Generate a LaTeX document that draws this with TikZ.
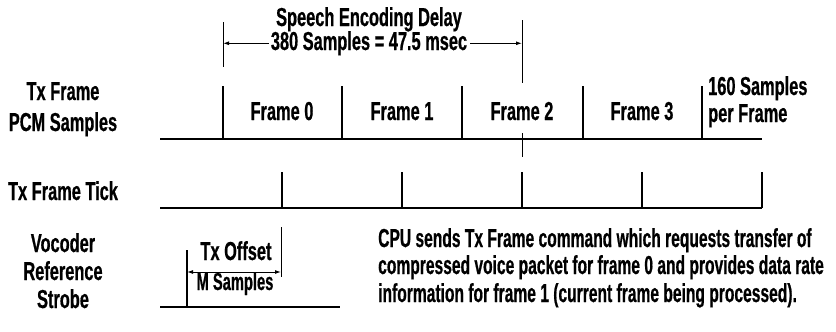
\documentclass[tikz,border=0pt]{standalone}
\usepackage{fontspec}
\setmainfont{Liberation Sans}[FakeStretch=0.63,FakeBold=0.6]
\newfontfamily\narrowfont{Liberation Sans}[FakeStretch=0.6,FakeBold=0.6]
\usetikzlibrary{arrows.meta}
\begin{document}
\begin{tikzpicture}[x=1pt,y=-1pt,
  every node/.style={font=\bfseries\fontsize{26}{28}\selectfont, inner sep=0pt},
  lbl/.style={anchor=base},
  lbll/.style={anchor=base west},
  narrow/.style={font=\narrowfont\bfseries\fontsize{26}{28}\selectfont},
  small/.style={font=\narrowfont\bfseries\fontsize{24.5}{26}\selectfont},
  baseline/.style={line width=2pt},
  tickline/.style={line width=1.8pt},
  thinline/.style={line width=1pt},
  arr/.style={thinline,-{Latex[length=6pt,width=4pt]}},
  dblarr/.style={thinline,{Latex[length=6pt,width=4pt]}-{Latex[length=6pt,width=4pt]}}]
\useasboundingbox (0,0) rectangle (836,332);

% left labels
\node[lbl] (l1) at (63,100) {Tx Frame};
\node[lbl] (l2) at (63,131) {PCM Samples};
\node[lbl] (l3) at (63,200) {Tx Frame Tick};
\node[lbl] (l4) at (63,252) {Vocoder};
\node[lbl] (l5) at (63,280) {Reference};
\node[lbl] (l6) at (63,308) {Strobe};

% speech encoding delay
\coordinate (dL1) at (223,22); \coordinate (dL2) at (223,67);
\coordinate (dR1) at (522,20); \coordinate (dR2) at (522,83);
\coordinate (dR3) at (522,133); \coordinate (dR4) at (522,157);
\node[lbl] (dt1) at (369,26) {Speech Encoding Delay};
\node[lbl] (dt2) at (369,50) {380 Samples = 47.5 msec};
\draw[thinline] (dL1) -- (dL2);
\draw[thinline] (dR1) -- (dR2);
\draw[thinline] (dR3) -- (dR4);
\draw[arr] ([xshift=-2pt]dt2.west) -- (dL1 |- dt2.west);
\draw[arr] ([xshift=3pt]dt2.east) -- (dR1 |- dt2.east);

% PCM samples row
\coordinate (p0) at (160,139); \coordinate (p1) at (762,139);
\draw[baseline] (p0) -- (p1);
\foreach \x in {223,342,462,583,702}{
  \draw[tickline] (\x,86) -- (\x,139);
}
\node[lbl] (f0) at (282,120) {Frame 0};
\node[lbl] (f1) at (402,120) {Frame 1};
\node[lbl] (f2) at (522,120) {Frame 2};
\node[lbl] (f3) at (642,120) {Frame 3};
\node[lbll] (s1) at (708,95) {160 Samples};
\node[lbll] (s2) at (708,122) {per Frame};

% Tx frame tick row
\coordinate (t0) at (160,208); \coordinate (t1) at (762,208);
\draw[baseline] (t0) -- (t1);
\foreach \x in {282,402,522,642,762}{
  \draw[tickline] (\x,172) -- (\x,208);
}

% vocoder reference strobe
\coordinate (v0) at (160,307); \coordinate (v1) at (340,307);
\coordinate (vl1) at (187,250); \coordinate (vl2) at (187,307);
\coordinate (vr1) at (281,227); \coordinate (vr2) at (281,277);
\draw[baseline] (v0) -- (v1);
\draw[tickline] (vl1) -- (vl2);
\draw[thinline] (vr1) -- (vr2);
\draw[dblarr] (vl1 |- 0,272) -- (vr1 |- 0,272);
\node[lbl] (o1) at (236,260) {Tx Offset};
\node[lbl,small] (o2) at (235,290) {M Samples};

% CPU text
\node[lbll,narrow] (c1) at (378,247) {CPU sends Tx Frame command which requests transfer of};
\node[lbll,narrow] (c2) at (378,274) {compressed voice packet for frame 0 and provides data rate};
\node[lbll,narrow] (c3) at (378,302) {information for frame 1 (current frame being processed).};
\end{tikzpicture}
\end{document}
